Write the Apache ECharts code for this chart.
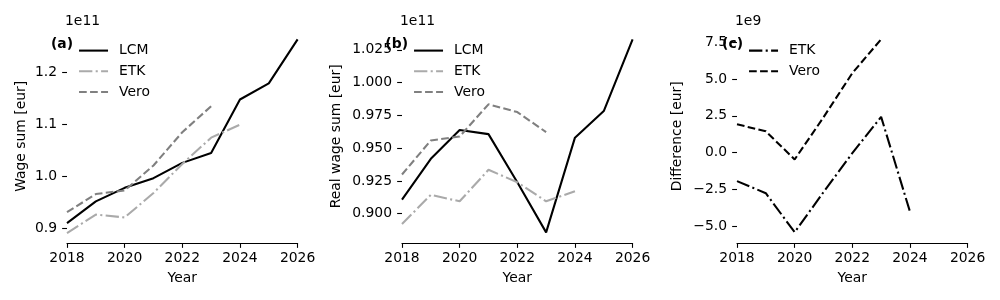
<!DOCTYPE html>
<html>
<head>
<meta charset="utf-8">
<script src="https://cdn.jsdelivr.net/npm/echarts@6/dist/echarts.min.js"></script>
<style>html,body{margin:0;padding:0;background:#fff;}#c{width:1000px;height:300px;}</style>
</head>
<body>
<div id="c"></div>
<script>
// Years
const years = [2018, 2019, 2020, 2021, 2022, 2023, 2024, 2025, 2026];
const xTicks = [2018, 2020, 2022, 2024, 2026];

// (a) Wage sum, units of 1e11 eur
const wageLCM  = [0.910, 0.952, 0.978, 0.9965, 1.026, 1.045, 1.148, 1.179, 1.2637];
const wageETK  = [0.891, 0.9265, 0.921, 0.968, 1.024, 1.0745, 1.0996];
const wageVero = [0.931, 0.966, 0.973, 1.021, 1.085, 1.135];

// (b) Real wage sum, units of 1e11 eur
const realLCM  = [0.9108, 0.9419, 0.9638, 0.9607, 0.924, 0.8858, 0.958, 0.9783, 1.0329];
const realETK  = [0.8922, 0.9144, 0.9095, 0.9335, 0.924, 0.9095, 0.9171];
const realVero = [0.9299, 0.9559, 0.9589, 0.9834, 0.9775, 0.9622];

// (c) Difference, units of 1e9 eur
const diffETK  = [-1.93, -2.75, -5.4, -2.68, -0.03, 2.43, -4.0];
const diffVero = [1.93, 1.45, -0.46, 2.4, 5.4, 7.70];

// Tick labels
const yTicksA = [0.9, 1.0, 1.1, 1.2];
const yTicksB = [0.900, 0.925, 0.950, 0.975, 1.000, 1.025];
const yTicksC = [-5.0, -2.5, 0.0, 2.5, 5.0, 7.5];

const FONT = 'DejaVu Sans';
const FS = 13.9;
const LW = 2.08;
const pairs = (vals) => vals.map((v, i) => [years[i], v]);
const fmt = (d) => (v) => v.toFixed(d).replace('-', '\u2212');

const lefts = [67, 402, 737];
const W = 230.6;
const TOP = 29.7, BOTTOM = 300 - 243;

const grids = lefts.map(l => ({left: l, width: W, top: TOP, bottom: BOTTOM, containLabel: false}));

const xAxes = lefts.map((l, i) => ({
  type: 'value', gridIndex: i, min: 2018, max: 2026, interval: 2,
  name: 'Year', nameLocation: 'middle', nameGap: 28.5,
  nameTextStyle: {fontFamily: FONT, fontSize: FS, color: '#000'},
  axisLine: {show: true, onZero: false, lineStyle: {color: '#000', width: 1.1}},
  axisTick: {show: true, length: 4.86, customValues: xTicks, lineStyle: {color: '#000', width: 1.1}},
  axisLabel: {fontFamily: FONT, fontSize: FS, color: '#000', margin: 8.5, customValues: xTicks, formatter: v => String(v)},
  splitLine: {show: false}
}));

const yCfg = [
  {min: 0.8718, max: 1.2823, ticks: yTicksA, dec: 1, name: 'Wage sum [eur]', gap: 38.8},
  {min: 0.8777, max: 1.0403, ticks: yTicksB, dec: 3, name: 'Real wage sum [eur]', gap: 58.5},
  {min: -6.13, max: 8.35, ticks: yTicksC, dec: 1, name: 'Difference [eur]', gap: 52.8}
];
const yAxes = yCfg.map((c, i) => ({
  type: 'value', gridIndex: i, min: c.min, max: c.max,
  name: c.name, nameLocation: 'middle', nameGap: c.gap, nameRotate: 90,
  nameTextStyle: {fontFamily: FONT, fontSize: FS, color: '#000'},
  axisLine: {show: false, onZero: false},
  axisTick: {show: true, length: 4.86, customValues: c.ticks, lineStyle: {color: '#000', width: 1.1}},
  axisLabel: {fontFamily: FONT, fontSize: FS, color: '#000', margin: 10, customValues: c.ticks, formatter: fmt(c.dec)},
  splitLine: {show: false}
}));

const DASH = [3.7 * LW, 1.6 * LW];
const DASHDOT = [6.4 * LW, 1.6 * LW, 1 * LW, 1.6 * LW];
function mk(name, gi, vals, color, type) {
  return {
    name: name, type: 'line', xAxisIndex: gi, yAxisIndex: gi, data: pairs(vals),
    symbol: 'none', showSymbol: false, animation: false, silent: true,
    lineStyle: {color: color, width: LW, type: type},
    itemStyle: {color: 'rgba(0,0,0,0)', borderColor: 'rgba(0,0,0,0)'}
  };
}
const series = [
  mk('LCM|a', 0, wageLCM, '#000000', 'solid'),
  mk('ETK|a', 0, wageETK, '#aaaaaa', DASHDOT),
  mk('Vero|a', 0, wageVero, '#808080', DASH),
  mk('LCM|b', 1, realLCM, '#000000', 'solid'),
  mk('ETK|b', 1, realETK, '#aaaaaa', DASHDOT),
  mk('Vero|b', 1, realVero, '#808080', DASH),
  mk('ETK|c', 2, diffETK, '#000000', DASHDOT),
  mk('Vero|c', 2, diffVero, '#000000', DASH)
];

const legendNames = [['LCM|a', 'ETK|a', 'Vero|a'], ['LCM|b', 'ETK|b', 'Vero|b'], ['ETK|c', 'Vero|c']];
const legends = legendNames.map((names, i) => ({
  data: names, orient: 'vertical', left: lefts[i] + 6, top: 38.6,
  itemWidth: 29, itemHeight: 14, itemGap: 6.7, selectedMode: false,
  itemStyle: {opacity: 0},
  lineStyle: {width: LW},
  formatter: n => n.split('|')[0],
  textStyle: {fontFamily: FONT, fontSize: FS, color: '#000', padding: [0, 0, 0, 6]}
}));

const offs = ['1e11', '1e11', '1e9'];
const tags = ['(a)', '(b)', '(c)'];
const graphics = [];
lefts.forEach((l, i) => {
  graphics.push({type: 'text', left: l - 2, top: 14, style: {text: offs[i], font: FS + 'px ' + FONT, fill: '#000'}});
  graphics.push({type: 'text', right: 1000 - (l + 6), top: 37, style: {text: tags[i], font: 'bold ' + FS + 'px ' + FONT, fill: '#000'}});
});

const chart = echarts.init(document.getElementById('c'), null, {renderer: 'canvas'});
chart.setOption({
  animation: false,
  backgroundColor: '#fff',
  grid: grids, xAxis: xAxes, yAxis: yAxes, series: series,
  legend: legends, graphic: graphics
});
</script>
</body>
</html>
